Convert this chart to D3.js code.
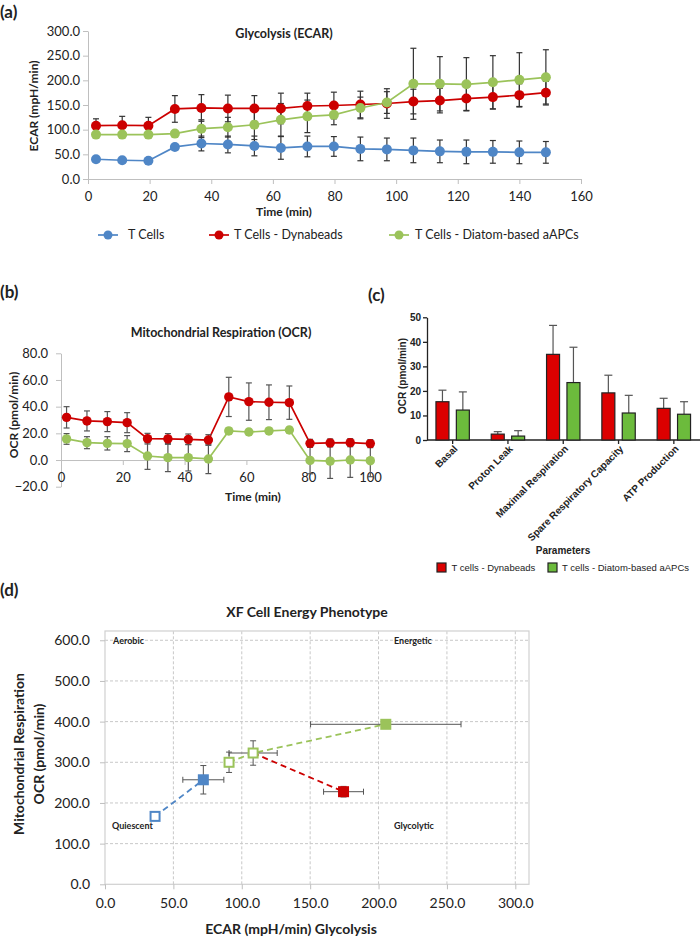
<!DOCTYPE html>
<html><head><meta charset="utf-8">
<script src="https://cdn.jsdelivr.net/npm/d3@7/dist/d3.min.js"></script>
<style>
body{margin:0;background:#fff;}
svg{display:block;font-family:Lato,"Open Sans",sans-serif;}
</style></head><body>
<svg id="chart" width="700" height="938"></svg>
<script>
// ================= DATA =================
const seriesNames = ["T Cells", "T Cells - Dynabeads", "T Cells - Diatom-based aAPCs"];

// (a) Glycolysis (ECAR)
const timeA = [2.6, 11.1, 19.6, 28.2, 36.8, 45.4, 54.0, 62.6, 71.2, 79.8, 88.4, 97.0, 105.6, 114.2, 122.8, 131.4, 140.0, 148.6];
const ecarTCells = [40, 38, 37, 65, 72, 70, 67, 63, 66, 66, 61, 60, 58, 56, 55, 55, 54, 54];
const ecarTCellsErr = [3, 3, 3, 4, 15, 17, 20, 23, 21, 20, 24, 23, 25, 23, 24, 23, 23, 22];
const ecarDyna = [108, 109, 108, 142, 144, 143, 143, 143, 148, 149, 151, 153, 157, 159, 163, 166, 170, 175];
const ecarDynaErr = [14, 18, 17, 27, 27, 27, 26, 31, 26, 27, 27, 30, 25, 25, 24, 24, 23, 23];
const ecarDiatom = [90, 90, 90, 92, 102, 105, 110, 120, 127, 130, 144, 155, 193, 193, 192, 196, 201, 206];
const ecarDiatomErr = [4, 4, 4, 5, 18, 20, 30, 33, 33, 20, 22, 22, 72, 55, 54, 54, 55, 56];
const ecarTicks = [0, 50, 100, 150, 200, 250, 300];
const timeTicksA = [0, 20, 40, 60, 80, 100, 120, 140, 160];

// (b) Mitochondrial Respiration (OCR)
const timeB = [1.8, 8.4, 15.0, 21.4, 28.0, 34.6, 41.2, 47.7, 54.3, 60.8, 67.3, 73.9, 80.6, 87.1, 93.6, 100.1];
const ocrDyna = [32, 29.3, 28.8, 28, 16, 15.8, 15.5, 15, 47.3, 43.8, 43.3, 43, 12.5, 12.8, 13, 12.3];
const ocrDynaErr = [8, 7.5, 7.5, 7.5, 4, 4, 4, 4, 14.7, 14, 13, 12.5, 3, 3, 3, 3];
const ocrDiatom = [15.8, 13, 12.5, 12.3, 3, 1.8, 1.8, 0.8, 21.8, 21, 21.8, 22.5, -0.3, -0.8, 0, -0.5];
const ocrDiatomErr = [4, 4.5, 5, 6, 10, 10.5, 10, 11, 2, 2, 2, 2, 10, 13, 13, 12];
const ocrTicksB = [-20, 0, 20, 40, 60, 80];
const timeTicksB = [0, 20, 40, 60, 80, 100];

// (c) Mito stress parameters
const params = ["Basal", "Proton Leak", "Maximal Respiration", "Spare Respiratory Capacity", "ATP Production"];
const barGroups = ["T cells - Dynabeads", "T cells - Diatom-based aAPCs"];
const paramDyna = [15.6, 2.4, 34.9, 19.2, 12.9];
const paramDynaErr = [4.7, 1.0, 11.8, 7.2, 4.1];
const paramDiatom = [12.2, 1.6, 23.4, 11.0, 10.5];
const paramDiatomErr = [7.4, 2.2, 14.4, 7.2, 5.1];
const ocrTicksC = [0, 10, 20, 30, 40, 50];

// (d) XF Cell Energy Phenotype
const phenoEcar = [36.6, 71.9, 90.7, 108.3, 205.3, 174.4];
const phenoOcr = [167, 257, 300, 322.8, 393.4, 227.7];
const phenoEcarErr = [0, 15, 0, 17.6, 55, 14.6];
const phenoOcrErr = [0, 35, 25, 30, 3, 13];
const phenoStressed = [false, true, false, false, true, true];
const phenoSeries = [0, 0, 2, 2, 2, 1];
const phenoLinks = [[0, 1], [2, 3, 4], [3, 5]];
const phenoLinkSeries = [0, 2, 1];
const phenoEcarTicks = [0, 50, 100, 150, 200, 250, 300];
const phenoOcrTicks = [0, 100, 200, 300, 400, 500, 600];
const quadrantLabels = ["Aerobic", "Energetic", "Quiescent", "Glycolytic"];

// ================= DRAW =================
const svg = d3.select("#chart");
const colors = ["#4f86c6", "#cc0000", "#9bc35a"];
const barColors = ["#dc0000", "#6cbb3c"];
const axisGray = "#bfbfbf";
const txt = "#222";

function styleAxis(g, size, fam, weight) {
  g.select(".domain").attr("stroke", axisGray);
  g.selectAll(".tick line").attr("stroke", axisGray);
  g.selectAll(".tick text").attr("fill", txt).style("font-size", size + "px")
    .style("font-family", fam || "Lato").style("font-weight", weight || 400);
}
function label(x, y, t, size, weight, anchor, rot, fam) {
  const e = svg.append("text").attr("x", x).attr("y", y).attr("dy", "0.35em")
    .attr("text-anchor", anchor || "middle").attr("fill", txt)
    .style("font-size", size + "px").style("font-weight", weight || 400).text(t);
  if (fam) e.style("font-family", fam);
  if (rot) e.attr("transform", `rotate(${rot},${x},${y})`);
  return e;
}
function errBars(g, x, y, xs, vs, es, col, cap, upOnly) {
  xs.forEach((t, i) => {
    const e = es[i]; if (!e) return;
    const y1 = y(vs[i] + e), y0 = upOnly ? y(vs[i]) : y(vs[i] - e), cx = x(t);
    g.append("line").attr("x1", cx).attr("x2", cx).attr("y1", y0).attr("y2", y1).attr("stroke", col).attr("stroke-width", 1.2);
    g.append("line").attr("x1", cx - cap).attr("x2", cx + cap).attr("y1", y1).attr("y2", y1).attr("stroke", col).attr("stroke-width", 1.2);
    if (!upOnly) g.append("line").attr("x1", cx - cap).attr("x2", cx + cap).attr("y1", y0).attr("y2", y0).attr("stroke", col).attr("stroke-width", 1.2);
  });
}

// ---------- (a) ----------
label(0, 12, "(a)", 17, 700, "start");
const xA = d3.scaleLinear().domain([0, 160]).range([88, 581]);
const yA = d3.scaleLinear().domain([0, 300]).range([179, 31]);
svg.append("g").attr("transform", "translate(88,0)")
  .call(d3.axisLeft(yA).tickValues(ecarTicks).tickFormat(d3.format(".1f")).tickSize(5).tickSizeOuter(0).tickPadding(3))
  .call(g => styleAxis(g, 13));
svg.append("g").attr("transform", "translate(0,179)")
  .call(d3.axisBottom(xA).tickValues(timeTicksA).tickFormat(d3.format("d")).tickSize(5).tickSizeOuter(0).tickPadding(8))
  .call(g => styleAxis(g, 13));
label(284, 34, "Glycolysis (ECAR)", 12.5, 700);
label(34, 106, "ECAR (mpH/min)", 12, 700, "middle", -90);
label(284, 212, "Time (min)", 12, 700);
const gA = svg.append("g");
const aVals = [ecarTCells, ecarDyna, ecarDiatom], aErrs = [ecarTCellsErr, ecarDynaErr, ecarDiatomErr];
aVals.forEach((v, k) => {
  gA.append("path").attr("d", d3.line().x((d, i) => xA(timeA[i])).y(d => yA(d))(v))
    .attr("fill", "none").attr("stroke", colors[k]).attr("stroke-width", 1.7);
});
aVals.forEach((v, k) => errBars(gA, xA, yA, timeA, v, aErrs[k], "#333", 3, false));
aVals.forEach((v, k) => {
  gA.selectAll(null).data(v).enter().append("circle")
    .attr("cx", (d, i) => xA(timeA[i])).attr("cy", d => yA(d)).attr("r", 5).attr("fill", colors[k]);
});
// legend (a)
const legAx = [108, 219, 399], legAt = [128, 234, 415];
seriesNames.forEach((n, k) => {
  svg.append("line").attr("x1", legAx[k] - 10).attr("x2", legAx[k] + 10).attr("y1", 235).attr("y2", 235)
    .attr("stroke", colors[k]).attr("stroke-width", 1.7);
  svg.append("circle").attr("cx", legAx[k]).attr("cy", 235).attr("r", 4.5).attr("fill", colors[k]);
  label(legAt[k], 235, n, 12.5, 400, "start");
});

// ---------- (b) ----------
label(0, 292, "(b)", 17, 700, "start");
const xB = d3.scaleLinear().domain([0, 100]).range([61, 370]);
const yB = d3.scaleLinear().domain([-20, 80]).range([486.7, 353.3]);
svg.append("g").attr("transform", "translate(61,0)")
  .call(d3.axisLeft(yB).tickValues(ocrTicksB).tickFormat(d3.format(".1f")).tickSize(5).tickSizeOuter(0).tickPadding(8))
  .call(g => styleAxis(g, 13));
svg.append("g").attr("transform", `translate(0,${yB(0)})`)
  .call(d3.axisBottom(xB).tickValues(timeTicksB).tickFormat(d3.format("d")).tickSize(5).tickSizeOuter(0).tickPadding(8))
  .call(g => styleAxis(g, 13));
label(221, 333, "Mitochondrial Respiration (OCR)", 12.5, 700);
label(14, 415, "OCR (pmol/min)", 12, 700, "middle", -90);
label(253, 497, "Time (min)", 12, 700);
const gB = svg.append("g");
const bVals = [ocrDyna, ocrDiatom], bErrs = [ocrDynaErr, ocrDiatomErr], bCols = [colors[1], colors[2]];
bVals.forEach((v, k) => gB.append("path").attr("d", d3.line().x((d, i) => xB(timeB[i])).y(d => yB(d))(v))
  .attr("fill", "none").attr("stroke", bCols[k]).attr("stroke-width", 1.7));
bVals.forEach((v, k) => errBars(gB, xB, yB, timeB, v, bErrs[k], "#555", 3, false));
bVals.forEach((v, k) => gB.selectAll(null).data(v).enter().append("circle")
  .attr("cx", (d, i) => xB(timeB[i])).attr("cy", d => yB(d)).attr("r", 4.7).attr("fill", bCols[k]));

// ---------- (c) ----------
const arial = "'Liberation Sans', Arial, sans-serif";
label(368, 295, "(c)", 17, 700, "start");
const xC = d3.scaleBand().domain(params).range([425, 701.5]);
const xSub = d3.scaleBand().domain(barGroups).range([0, xC.bandwidth()]).paddingInner(0.363).paddingOuter(0.537);
const yC = d3.scaleLinear().domain([0, 50]).range([440, 317.3]);
svg.append("g").attr("transform", "translate(427,0)")
  .call(d3.axisLeft(yC).tickValues(ocrTicksC).tickSize(4).tickSizeOuter(0).tickPadding(2))
  .call(g => { styleAxis(g, 10, arial, 700); g.select(".domain").attr("stroke", "#222").attr("stroke-width", 1.3); g.selectAll(".tick line").attr("stroke", "#222").attr("stroke-width", 1.3); });
svg.append("g").attr("transform", "translate(0,440)")
  .call(d3.axisBottom(xC).tickSize(4).tickSizeOuter(0).tickFormat(""))
  .call(g => { g.select(".domain").attr("stroke", "#222").attr("stroke-width", 1.3).attr("d", "M427,0H700"); g.selectAll(".tick line").attr("stroke", "#222").attr("stroke-width", 1.3); });
params.forEach(p => {
  const cx = xC(p) + xC.bandwidth() / 2;
  svg.append("text").attr("transform", `translate(${cx + 3},${447}) rotate(-45)`)
    .attr("text-anchor", "end").attr("dy", "0.35em").attr("fill", txt)
    .style("font-family", arial).style("font-size", "10px").style("font-weight", 700).text(p);
});
const cVals = [paramDyna, paramDiatom], cErrs = [paramDynaErr, paramDiatomErr];
const gC = svg.append("g");
cVals.forEach((v, k) => {
  params.forEach((p, i) => {
    const bx = xC(p) + xSub(barGroups[k]), bw = xSub.bandwidth(), cx = bx + bw / 2;
    const top = yC(v[i] + cErrs[k][i]);
    gC.append("line").attr("x1", cx).attr("x2", cx).attr("y1", yC(v[i])).attr("y2", top).attr("stroke", "#555").attr("stroke-width", 1.2);
    gC.append("line").attr("x1", cx - 4).attr("x2", cx + 4).attr("y1", top).attr("y2", top).attr("stroke", "#555").attr("stroke-width", 1.2);
    gC.append("rect").attr("x", bx).attr("y", yC(v[i])).attr("width", bw).attr("height", yC(0) - yC(v[i]))
      .attr("fill", barColors[k]).attr("stroke", "#222").attr("stroke-width", 1.2);
  });
});
label(402, 376, "OCR (pmol/min)", 10, 700, "middle", -90, arial);
label(563, 550, "Parameters", 10, 700, "middle", 0, arial);
const legCx = [437, 548], legCt = [451.5, 562];
barGroups.forEach((n, k) => {
  svg.append("rect").attr("x", legCx[k]).attr("y", 563).attr("width", 9).attr("height", 9)
    .attr("fill", barColors[k]).attr("stroke", "#222").attr("stroke-width", 1.2);
  label(legCt[k], 568, n, 9.5, 400, "start", 0, arial);
});

// ---------- (d) ----------
label(0, 590, "(d)", 17, 700, "start");
const xD = d3.scaleLinear().domain([0, 310]).range([105, 529]);
const yD = d3.scaleLinear().domain([0, 622.8]).range([884.3, 631]);
const gD = svg.append("g");
phenoEcarTicks.filter(t => t > 0).forEach(t => gD.append("line").attr("x1", xD(t)).attr("x2", xD(t)).attr("y1", yD(0)).attr("y2", yD(622.8))
  .attr("stroke", "#c8c8c8").attr("stroke-dasharray", "3,2"));
phenoOcrTicks.filter(t => t > 0).forEach(t => gD.append("line").attr("x1", xD(0)).attr("x2", xD(310)).attr("y1", yD(t)).attr("y2", yD(t))
  .attr("stroke", "#c8c8c8").attr("stroke-dasharray", "3,2"));
gD.append("rect").attr("x", xD(0)).attr("y", yD(622.8)).attr("width", xD(310) - xD(0)).attr("height", yD(0) - yD(622.8))
  .attr("fill", "none").attr("stroke", "#d0d0d0").attr("stroke-width", 1.2);
svg.append("g").attr("transform", `translate(${xD(0)},0)`)
  .call(d3.axisLeft(yD).tickValues(phenoOcrTicks).tickFormat(d3.format(".1f")).tickSize(5).tickSizeOuter(0).tickPadding(10))
  .call(g => { styleAxis(g, 14); g.select(".domain").remove(); });
svg.append("g").attr("transform", `translate(0,${yD(0)})`)
  .call(d3.axisBottom(xD).tickValues(phenoEcarTicks).tickFormat(d3.format(".1f")).tickSize(5).tickSizeOuter(0).tickPadding(9))
  .call(g => { styleAxis(g, 14); g.select(".domain").remove(); });
label(307, 612, "XF Cell Energy Phenotype", 14, 700);
label(19, 754, "Mitochondrial Respiration", 14, 700, "middle", -90);
label(39, 754, "OCR (pmol/min)", 14, 700, "middle", -90);
label(291, 929, "ECAR (mpH/min) Glycolysis", 14, 700);
const quadPos = [[113, 641], [394, 641], [112, 826], [394, 826]];
quadrantLabels.forEach((q, i) => label(quadPos[i][0], quadPos[i][1], q, 9, 700, "start"));
phenoLinks.forEach((lk, j) => {
  gD.append("path").attr("d", d3.line().x(i => xD(phenoEcar[i])).y(i => yD(phenoOcr[i]))(lk))
    .attr("fill", "none").attr("stroke", colors[phenoLinkSeries[j]]).attr("stroke-width", 1.8).attr("stroke-dasharray", "6,4");
});
phenoEcar.forEach((xv, i) => {
  const cx = xD(xv), cy = yD(phenoOcr[i]);
  if (phenoEcarErr[i]) {
    const x0 = xD(xv - phenoEcarErr[i]), x1 = xD(xv + phenoEcarErr[i]);
    gD.append("line").attr("x1", x0).attr("x2", x1).attr("y1", cy).attr("y2", cy).attr("stroke", "#555");
    [x0, x1].forEach(xx => gD.append("line").attr("x1", xx).attr("x2", xx).attr("y1", cy - 3).attr("y2", cy + 3).attr("stroke", "#555"));
  }
  if (phenoOcrErr[i]) {
    const y0 = yD(phenoOcr[i] - phenoOcrErr[i]), y1 = yD(phenoOcr[i] + phenoOcrErr[i]);
    gD.append("line").attr("x1", cx).attr("x2", cx).attr("y1", y0).attr("y2", y1).attr("stroke", "#555");
    [y0, y1].forEach(yy => gD.append("line").attr("x1", cx - 3).attr("x2", cx + 3).attr("y1", yy).attr("y2", yy).attr("stroke", "#555"));
  }
});
phenoEcar.forEach((xv, i) => {
  const cx = xD(xv), cy = yD(phenoOcr[i]), col = colors[phenoSeries[i]];
  if (phenoStressed[i]) {
    gD.append("rect").attr("x", cx - 5.5).attr("y", cy - 5.5).attr("width", 11).attr("height", 11).attr("fill", col);
  } else {
    gD.append("rect").attr("x", cx - 4.5).attr("y", cy - 4.5).attr("width", 9).attr("height", 9)
      .attr("fill", "#fff").attr("stroke", col).attr("stroke-width", 2);
  }
});
</script>
</body></html>
